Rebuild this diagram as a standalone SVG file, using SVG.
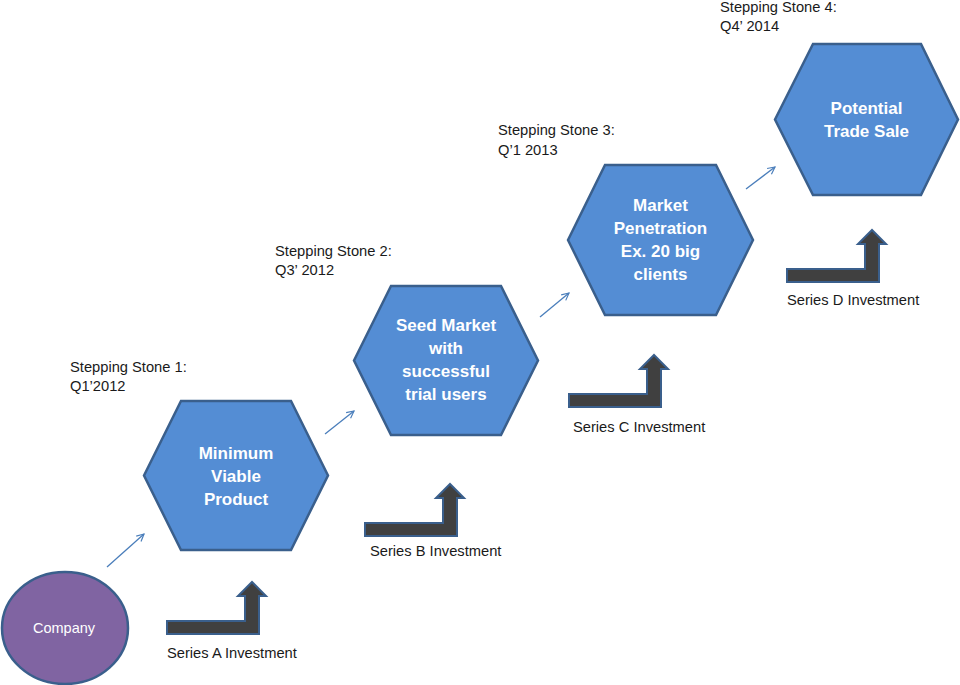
<svg xmlns="http://www.w3.org/2000/svg" xmlns:xlink="http://www.w3.org/1999/xlink" width="960" height="685" viewBox="0 0 960 685">
<style>
.hex{fill:#548dd4;stroke:#3a5f8c;stroke-width:2.5}
.ht{font-family:"Liberation Sans",Arial,sans-serif;font-weight:bold;font-size:17px;fill:#ffffff;text-anchor:middle}
.lbl{font-family:"Liberation Sans",Arial,sans-serif;font-size:14.7px;fill:#1a1a1a}
.bent{fill:#404040;stroke:#3a5f8c;stroke-width:2;stroke-linejoin:miter}
.conn{stroke:#4a7ebb;stroke-width:1.3;fill:none}
</style>
<defs>
<marker id="ah" viewBox="0 0 10 10" refX="9" refY="5" markerWidth="9" markerHeight="9" markerUnits="userSpaceOnUse" orient="auto">
<path d="M1,1 L9,5 L1,9" fill="none" stroke="#4a7ebb" stroke-width="1.3"/>
</marker>
<path id="bentArrow" d="M0,0 L78,0 L78,-25 L71,-25 L85,-39 L99,-25 L92,-25 L92,13 L0,13 Z"/>
</defs>
<rect width="960" height="685" fill="#ffffff"/>

<g id="company">
<ellipse cx="65" cy="628" rx="63" ry="56" fill="#8064a2" stroke="#3a5f8c" stroke-width="2.5"/>
<text x="64" y="633" font-family="'Liberation Sans',Arial,sans-serif" font-size="14.5" fill="#ffffff" text-anchor="middle">Company</text>
</g>

<g id="stone1">
<polygon class="hex" points="144,475.5 181,401 291,401 328,475.5 291,550 181,550"/>
<text class="ht" x="236" y="459">Minimum</text>
<text class="ht" x="236" y="482">Viable</text>
<text class="ht" x="236" y="505">Product</text>
</g>
<g id="stone1-label">
<text class="lbl" x="70" y="372">Stepping Stone 1:</text>
<text class="lbl" x="70" y="391">Q1’2012</text>
</g>

<g id="stone2">
<polygon class="hex" points="354,360.5 391,286 501,286 538,360.5 501,435 391,435"/>
<text class="ht" x="446" y="331">Seed Market</text>
<text class="ht" x="446" y="354">with</text>
<text class="ht" x="446" y="377">successful</text>
<text class="ht" x="446" y="400">trial users</text>
</g>
<g id="stone2-label">
<text class="lbl" x="275" y="256">Stepping Stone 2:</text>
<text class="lbl" x="275" y="275">Q3’ 2012</text>
</g>

<g id="stone3">
<polygon class="hex" points="568,240 605,165 716,165 753,240 716,315 605,315"/>
<text class="ht" x="660.5" y="211">Market</text>
<text class="ht" x="660.5" y="234">Penetration</text>
<text class="ht" x="660.5" y="257">Ex. 20 big</text>
<text class="ht" x="660.5" y="280">clients</text>
</g>
<g id="stone3-label">
<text class="lbl" x="498" y="135">Stepping Stone 3:</text>
<text class="lbl" x="498" y="155">Q’1 2013</text>
</g>

<g id="stone4">
<polygon class="hex" points="775,119.5 813,44 921,44 958,119.5 921,195 813,195"/>
<text class="ht" x="866.5" y="114">Potential</text>
<text class="ht" x="866.5" y="137">Trade Sale</text>
</g>
<g id="stone4-label">
<text class="lbl" x="720" y="12">Stepping Stone 4:</text>
<text class="lbl" x="720" y="31">Q4’ 2014</text>
</g>

<g id="seriesA">
<use xlink:href="#bentArrow" class="bent" transform="translate(167,621)"/>
<text class="lbl" x="167" y="658">Series A Investment</text>
</g>
<g id="seriesB">
<use xlink:href="#bentArrow" class="bent" transform="translate(365,523)"/>
<text class="lbl" x="370" y="556">Series B Investment</text>
</g>
<g id="seriesC">
<use xlink:href="#bentArrow" class="bent" transform="translate(569,394)"/>
<text class="lbl" x="573" y="432">Series C Investment</text>
</g>
<g id="seriesD">
<use xlink:href="#bentArrow" class="bent" transform="translate(787,269)"/>
<text class="lbl" x="787" y="305">Series D Investment</text>
</g>

<g id="connectors">
<line class="conn" x1="107" y1="567" x2="144" y2="534" marker-end="url(#ah)"/>
<line class="conn" x1="325" y1="434" x2="354" y2="411" marker-end="url(#ah)"/>
<line class="conn" x1="540" y1="317" x2="569" y2="293" marker-end="url(#ah)"/>
<line class="conn" x1="746" y1="189" x2="775" y2="167" marker-end="url(#ah)"/>
</g>
</svg>
